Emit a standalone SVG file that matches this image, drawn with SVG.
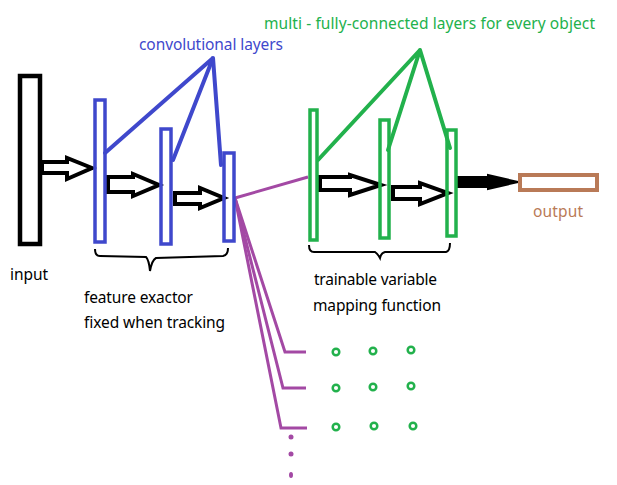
<svg xmlns="http://www.w3.org/2000/svg" width="617" height="485" viewBox="0 0 617 485">
<style>
.t{font-family:"Noto Sans","Open Sans","Liberation Sans",sans-serif;font-size:15.5px}
.blk{fill:#000}
.blu{fill:#3F48CC}
.grn{fill:#22B14C}
.brn{fill:#B97A57}
.conv{fill:none;stroke:#3F48CC;stroke-width:3.5}
.fc{fill:none;stroke:#22B14C;stroke-width:3.5}
.arr{fill:#fff;stroke:#000;stroke-width:4;stroke-linejoin:miter}
.bl{stroke:#3F48CC;stroke-width:4;fill:none;stroke-linecap:round}
.gl{stroke:#22B14C;stroke-width:4;fill:none;stroke-linecap:round}
.pl{stroke:#A349A4;stroke-width:3;fill:none}
.br{stroke:#000;stroke-width:2;fill:none}
.ring{fill:none;stroke:#22B14C;stroke-width:2.5}
</style>
<rect width="617" height="485" fill="#fff"/>
<g id="connectors">
  <polyline class="bl" points="105,153 213,58 173,160"/>
  <line class="bl" x1="213" y1="58" x2="221" y2="165"/>
  <polyline class="gl" points="318,160 420,50 388,150"/>
  <line class="gl" x1="420" y1="50" x2="450" y2="148"/>
  <polygon class="arr" points="42,162 67,162 67,158 92,168 67,179 67,173 42,173"/>
  <polygon class="arr" points="108,177 133,177 133,174 159,185 133,196 133,192 108,192"/>
  <polygon class="arr" points="175,193 200,193 200,188 224,198 200,208 200,204 175,204"/>
  <polygon class="arr" points="320,177 350,177 350,175 381,185 350,195 350,190 320,190"/>
  <polygon class="arr" points="393,187 420,187 420,183 448,193 420,204 420,199 393,199"/>
  <polygon points="458,177 488,177 488,175 518,182 488,189 488,187 458,187" fill="#000" stroke="#000" stroke-width="2"/>
  <line class="pl" x1="235" y1="198" x2="308" y2="177"/>
  <polyline class="pl" points="235,198 285,352 306,352"/>
  <polyline class="pl" points="235,198 283,388 306,388"/>
  <polyline class="pl" points="235,198 281,428 307,428"/>
  <circle cx="291" cy="437" r="2.5" fill="#A349A4"/>
  <circle cx="291" cy="454" r="2.5" fill="#A349A4"/>
  <ellipse cx="291" cy="475" rx="2" ry="3" fill="#A349A4"/>
  <path class="br" d="M95,249 Q95,256 100,256 L146,257 Q149,260 150,271 Q152,260 156,258 L223,256 Q228,255 228,248"/>
  <path class="br" d="M309,245 Q309,252 314,252 L375,252 Q378,254 380,258 Q381,253 385,252 L446,252 Q450,251 450,243"/>
</g>
<g id="input">
  <rect x="20" y="76" width="20" height="168" fill="#fff" stroke="#000" stroke-width="4.5"/>
  <text class="t blk" x="10" y="280" textLength="38">input</text>
</g>
<g id="conv1"><rect class="conv" x="95" y="100" width="10" height="142"/></g>
<g id="conv2"><rect class="conv" x="161" y="129" width="10" height="115"/></g>
<g id="conv3"><rect class="conv" x="224" y="153" width="10" height="88"/></g>
<g id="conv-label"><text class="t blu" x="139" y="50" textLength="144">convolutional layers</text></g>
<g id="fc1"><rect class="fc" x="310" y="110" width="7" height="130"/></g>
<g id="fc2"><rect class="fc" x="380" y="120" width="9" height="118"/></g>
<g id="fc3"><rect class="fc" x="447" y="130" width="9" height="106"/></g>
<g id="fc-label"><text class="t grn" x="264" y="29" textLength="331">multi - fully-connected layers for every object</text></g>
<g id="output">
  <rect x="520" y="175" width="77" height="15" fill="#fff" stroke="#B97A57" stroke-width="4"/>
  <text class="t brn" x="533" y="217" textLength="50">output</text>
</g>
<g id="feature-label">
  <text class="t blk" x="84" y="303" textLength="109">feature exactor</text>
  <text class="t blk" x="84" y="328" textLength="141">fixed when tracking</text>
</g>
<g id="mapping-label">
  <text class="t blk" x="314" y="285" textLength="123">trainable variable</text>
  <text class="t blk" x="313" y="311" textLength="128">mapping function</text>
</g>
<g id="objects">
  <circle class="ring" cx="336" cy="352" r="3.3"/>
  <circle class="ring" cx="373" cy="351" r="3.3"/>
  <circle class="ring" cx="411" cy="350" r="3.3"/>
  <circle class="ring" cx="336" cy="388" r="3.3"/>
  <circle class="ring" cx="373" cy="387" r="3.3"/>
  <circle class="ring" cx="411" cy="386" r="3.3"/>
  <circle class="ring" cx="336" cy="427" r="3.3"/>
  <circle class="ring" cx="374" cy="426" r="3.3"/>
  <circle class="ring" cx="413" cy="426" r="3.3"/>
</g>
</svg>
